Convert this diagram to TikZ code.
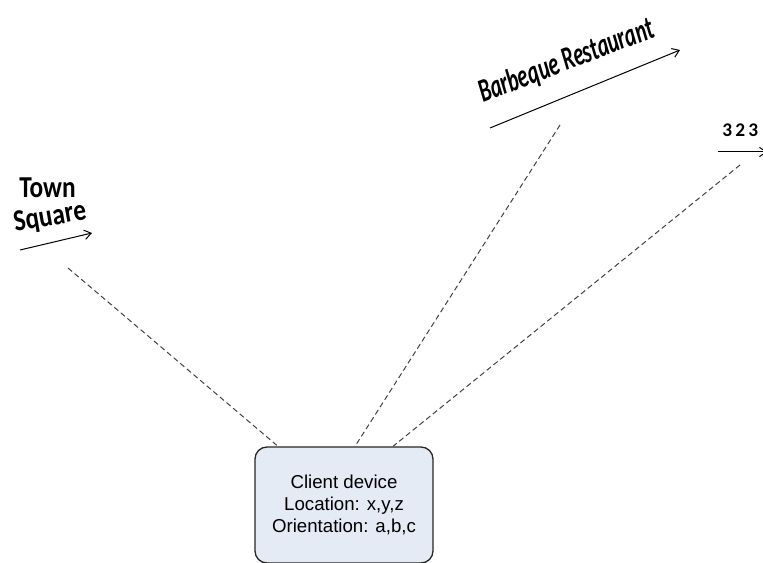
\documentclass[tikz,border=0pt]{standalone}
\usepackage{fontspec}
\setmainfont{Liberation Sans}
\newfontfamily\lblfont{Carlito}
\usetikzlibrary{arrows.meta}
\definecolor{boxfill}{HTML}{E4EBF5}
\begin{document}
\begin{tikzpicture}[x=0.75pt,y=-0.75pt,
  client/.style={draw=black!85,line width=1pt,fill=boxfill,rounded corners=9pt,
    minimum width=178*0.75pt,minimum height=116*0.75pt,align=center,inner sep=0pt,
    font=\fontsize{14pt}{16.5pt}\selectfont},
  sight/.style={draw=black!75,line width=0.75pt,dash pattern=on 4pt off 2.5pt},
  dirarrow/.style={draw=black,line width=0.75pt,-{Straight Barb[length=5pt,width=7pt]}},
  lbl/.style={inner sep=0pt}]
\useasboundingbox (0,0) rectangle (763,563);
\node[client] (dev) at (344,505) {Client device\\Location: x,y,z\\Orientation: a,b,c};
% Town Square
\node[lbl,font=\lblfont\bfseries\fontsize{19pt}{21pt}\selectfont,yscale=1.2,anchor=base west] (town) at (19,197) {Town};
\node[lbl,font=\lblfont\bfseries\fontsize{19pt}{21pt}\selectfont,rotate=10,yscale=1.2,anchor=base west] (square) at (15,232) {Square};
\coordinate (ts1) at (20,250);
\coordinate (ts2) at (92,233);
\draw[dirarrow] (ts1) -- (ts2);
% Barbeque Restaurant
\node[lbl,font=\lblfont\bfseries\itshape\fontsize{17pt}{19pt}\selectfont,rotate=21,xscale=0.93,yscale=1.45,anchor=base west] (bbq) at (483,103) {Barbeque Restaurant};
\coordinate (br1) at (490,128);
\coordinate (br2) at (680,50);
\draw[dirarrow] (br1) -- (br2);
% 323
\node[lbl,font=\lblfont\bfseries\fontsize{14.5pt}{16pt}\selectfont,anchor=base west] (num) at (722,137) {3\,2\,3};
\coordinate (n1) at (718,152);
\coordinate (n2) at (767,152);
\draw[dirarrow] (n1) -- (n2);
% sight lines
\coordinate (s1) at (68,268);
\coordinate (s2) at (560,125);
\coordinate (s3) at (740,165);
\draw[sight] (s1) -- (dev.north west -| 278,0);
\draw[sight] (s2) -- (dev.north -| 355,0);
\draw[sight] (s3) -- (dev.north -| 393,0);
\end{tikzpicture}
\end{document}
